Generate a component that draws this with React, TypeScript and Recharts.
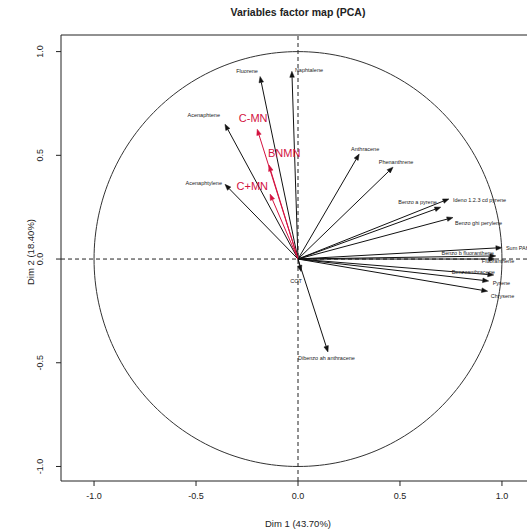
import React from "react";
import {
  ComposedChart,
  Scatter,
  XAxis,
  YAxis,
  ReferenceLine,
  ReferenceArea,
} from "recharts";

// ---- data ----
const varNames = [
  "Fluorene",
  "Naphtalene",
  "Acenaphtene",
  "Acenaphtylene",
  "C-MN",
  "BNMN",
  "C+MN",
  "Anthracene",
  "Phenanthrene",
  "Ideno 1.2.3 cd pyrene",
  "Benzo a pyrene",
  "Benzo ghi perylene",
  "Sum PAH",
  "Benzo b fluoranthene",
  "Fluoranthene",
  "Benzoanthracene",
  "Pyrene",
  "Chrysene",
  "COT",
  "Dibenzo ah anthracene",
];
const dim1 = [
  -0.186, -0.03, -0.358, -0.358, -0.2, -0.142, -0.137, 0.3, 0.466, 0.74, 0.7,
  0.76, 1.0, 0.97, 0.965, 0.96, 0.935, 0.93, 0.015, 0.147,
];
const dim2 = [
  0.88, 0.905, 0.65, 0.36, 0.626, 0.453, 0.313, 0.506, 0.443, 0.29, 0.25, 0.2,
  0.055, 0.015, 0.0, -0.077, -0.106, -0.155, -0.06, -0.448,
];
const supplementary = ["C-MN", "BNMN", "C+MN"];
const xTicks = [-1, -0.5, 0, 0.5, 1];
const yTicks = [-1, -0.5, 0, 0.5, 1];
const title = "Variables factor map (PCA)";
const xTitle = "Dim 1 (43.70%)";
const yTitle = "Dim 2 (18.40%)";

// ---- layout / style (label placement in pixels relative to arrow tip) ----
const labelPlace: Record<string, { dx: number; dy: number; anchor: string }> = {
  Fluorene: { dx: -13, dy: -5, anchor: "middle" },
  Naphtalene: { dx: 3, dy: -1, anchor: "start" },
  Acenaphtene: { dx: -5, dy: -9, anchor: "end" },
  Acenaphtylene: { dx: -3, dy: -1, anchor: "end" },
  "C-MN": { dx: -4, dy: -11, anchor: "middle" },
  BNMN: { dx: -1, dy: -12, anchor: "start" },
  "C+MN": { dx: -2, dy: -8, anchor: "end" },
  Anthracene: { dx: 6, dy: -5, anchor: "middle" },
  Phenanthrene: { dx: 3, dy: -5, anchor: "middle" },
  "Ideno 1.2.3 cd pyrene": { dx: 4, dy: 1, anchor: "start" },
  "Benzo a pyrene": { dx: -4, dy: -5, anchor: "end" },
  "Benzo ghi perylene": { dx: 2, dy: 5, anchor: "start" },
  "Sum PAH": { dx: 4, dy: 0, anchor: "start" },
  "Benzo b fluoranthene": { dx: -2, dy: -3, anchor: "end" },
  Fluoranthene: { dx: -13, dy: 2, anchor: "start" },
  Benzoanthracene: { dx: 1, dy: -3, anchor: "end" },
  Pyrene: { dx: 4, dy: 2, anchor: "start" },
  Chrysene: { dx: 3, dy: 5, anchor: "start" },
  COT: { dx: -5, dy: 10, anchor: "middle" },
  "Dibenzo ah anthracene": { dx: -30, dy: 6, anchor: "start" },
};

const X_DOMAIN: [number, number] = [-1.162, 1.162];
const Y_DOMAIN: [number, number] = [-1.07, 1.08];
const RED = "#d3123f";
const INK = "#222";
const FONT = "'Liberation Sans', Arial, sans-serif";

const rows = varNames.map((name, i) => ({
  name,
  x: dim1[i],
  y: dim2[i],
  supp: supplementary.includes(name),
}));

// unit correlation circle (geometric reference, not data)
const circle = Array.from({ length: 241 }, (_, k) => {
  const t = (k / 240) * 2 * Math.PI;
  return { x: Math.cos(t), y: Math.sin(t) };
});

const ArrowShape = (props: any) => {
  const { x1, y1, x2, y2, stroke } = props;
  if ([x1, y1, x2, y2].some((v) => typeof v !== "number" || isNaN(v))) return null;
  const ang = Math.atan2(y2 - y1, x2 - x1);
  const L = 6;
  const W = 2.3;
  const bx = x2 - L * Math.cos(ang);
  const by = y2 - L * Math.sin(ang);
  const nx = -Math.sin(ang) * W;
  const ny = Math.cos(ang) * W;
  return (
    <g>
      <line x1={x1} y1={y1} x2={bx} y2={by} stroke={stroke} strokeWidth={1} />
      <polygon
        points={`${x2},${y2} ${bx + nx},${by + ny} ${bx - nx},${by - ny}`}
        fill={stroke}
        stroke={stroke}
        strokeWidth={0.5}
      />
    </g>
  );
};

const LabelShape = (props: any) => {
  const { cx, cy, payload } = props;
  if (cx == null || cy == null || !payload) return null;
  const p = labelPlace[payload.name] || { dx: 0, dy: 0, anchor: "middle" };
  return (
    <text
      x={cx + p.dx}
      y={cy + p.dy}
      textAnchor={p.anchor as any}
      dominantBaseline="central"
      fontFamily={FONT}
      fontSize={payload.supp ? 11 : 5.5}
      fill={payload.supp ? RED : INK}
    >
      {payload.name}
    </text>
  );
};

const XTick = (props: any) => {
  const { x, y, payload } = props;
  return (
    <text
      x={x}
      y={y + 8}
      textAnchor="middle"
      dominantBaseline="central"
      fontFamily={FONT}
      fontSize={9}
      fill={INK}
    >
      {Number(payload.value).toFixed(1)}
    </text>
  );
};

const YTick = (props: any) => {
  const { x, y, payload } = props;
  const tx = x - 14;
  return (
    <text
      x={tx}
      y={y}
      transform={`rotate(-90 ${tx} ${y})`}
      textAnchor="middle"
      dominantBaseline="central"
      fontFamily={FONT}
      fontSize={9}
      fill={INK}
    >
      {Number(payload.value).toFixed(1)}
    </text>
  );
};

export default function App() {
  return (
    <div
      style={{
        position: "absolute",
        left: 0,
        top: 0,
        width: 527,
        height: 531,
        overflow: "hidden",
        background: "#fff",
      }}
    >
      <div
        style={{
          position: "absolute",
          left: 198,
          width: 200,
          top: 6,
          textAlign: "center",
          fontFamily: FONT,
          fontWeight: "bold",
          fontSize: 10.5,
          color: INK,
        }}
      >
        {title}
      </div>
      <div style={{ position: "absolute", left: 0, top: 0 }}>
        <ComposedChart
          width={545}
          height={531}
          margin={{ top: 35, right: 10, bottom: 20, left: 21 }}
        >
          <XAxis
            type="number"
            dataKey="x"
            domain={X_DOMAIN}
            ticks={xTicks}
            allowDataOverflow
            axisLine={false}
            tickLine={{ stroke: INK }}
            tickSize={5}
            tick={<XTick />}
            height={30}
            interval={0}
            label={(lp: any) => {
              const vb = lp.viewBox || {};
              return (
                <text
                  x={(vb.x ?? 61) + (vb.width ?? 474) / 2}
                  y={523}
                  textAnchor="middle"
                  dominantBaseline="central"
                  fontFamily={FONT}
                  fontSize={9.5}
                  fill={INK}
                >
                  {xTitle}
                </text>
              );
            }}
          />
          <YAxis
            type="number"
            dataKey="y"
            domain={Y_DOMAIN}
            ticks={yTicks}
            allowDataOverflow
            axisLine={false}
            tickLine={{ stroke: INK }}
            tickSize={5}
            tick={<YTick />}
            width={40}
            interval={0}
            label={() => (
              <text
                x={30}
                y={252}
                transform="rotate(-90 30 252)"
                textAnchor="middle"
                dominantBaseline="central"
                fontFamily={FONT}
                fontSize={9.5}
                fill={INK}
              >
                {yTitle}
              </text>
            )}
          />
          <ReferenceArea
            x1={X_DOMAIN[0]}
            x2={X_DOMAIN[1]}
            y1={Y_DOMAIN[0]}
            y2={Y_DOMAIN[1]}
            fill="none"
            fillOpacity={0}
            stroke={INK}
            strokeWidth={1}
            ifOverflow="visible"
          />
          <ReferenceLine x={0} stroke={INK} strokeDasharray="4 3" />
          <ReferenceLine y={0} stroke={INK} strokeDasharray="4 3" />
          <Scatter
            data={circle}
            line={{ stroke: "#333", strokeWidth: 1 }}
            lineType="joint"
            shape={() => <g />}
            isAnimationActive={false}
          />
          {rows.map((r) => (
            <ReferenceLine
              key={r.name}
              segment={[
                { x: 0, y: 0 },
                { x: r.x, y: r.y },
              ]}
              stroke={r.supp ? RED : "#111"}
              ifOverflow="visible"
              shape={ArrowShape}
            />
          ))}
          <Scatter
            data={rows}
            shape={LabelShape}
            isAnimationActive={false}
          />
        </ComposedChart>
      </div>
    </div>
  );
}
